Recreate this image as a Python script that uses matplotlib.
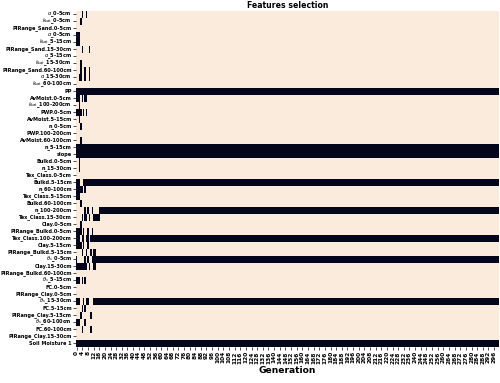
import numpy as np
import matplotlib
matplotlib.use("Agg")
import matplotlib.pyplot as plt
import seaborn as sns

n_generations = 300
last = n_generations - 1

features = [
    r"$\alpha$_0-5cm", r"$k_{sat}$_0-5cm", "PIRange_Sand.0-5cm", r"$\alpha$_0-5cm",
    r"$k_{sat}$_5-15cm", "PIRange_Sand.15-30cm", r"$\alpha$_5-15cm", r"$k_{sat}$_15-30cm",
    "PIRange_Sand.60-100cm", r"$\alpha$_15-30cm", r"$k_{sat}$_60-100cm", "PP",
    "AvMoist.0-5cm", r"$k_{sat}$_100-200cm", "PWP.0-5cm", "AvMoist.5-15cm",
    "n_0-5cm", "PWP.100-200cm", "AvMoist.60-100cm", "n_5-15cm",
    "slope", "Bulkd.0-5cm", "n_15-30cm", "Tex_Class.0-5cm",
    "Bulkd.5-15cm", "n_60-100cm", "Tex_Class.5-15cm", "Bulkd.60-100cm",
    "n_100-200cm", "Tex_Class.15-30cm", "Clay.0-5cm", "PIRange_Bulkd.0-5cm",
    "Tex_Class.100-200cm", "Clay.5-15cm", "PIRange_Bulkd.5-15cm", r"$\theta_s$_0-5cm",
    "Clay.15-30cm", "PIRange_Bulkd.60-100cm", r"$\theta_s$_5-15cm", "FC.0-5cm",
    "PIRange_Clay.0-5cm", r"$\theta_s$_15-30cm", "FC.5-15cm", "PIRange_Clay.5-15cm",
    r"$\theta_s$_60-100cm", "FC.60-100cm", "PIRange_Clay.15-30cm", "Soil Moisture 1",
]

# generations (inclusive ranges) in which each feature was selected
selected = [
    [(4, 4), (7, 7)], [(3, 3)], [], [(0, 2)],
    [(0, 2)], [(4, 4), (9, 9)], [], [(3, 3)],
    [(3, 3), (6, 6), (9, 9)], [(2, 3), (6, 6), (9, 9)], [], [(0, last)],
    [(0, 2), (4, 4), (6, 7)], [(2, 2)], [(0, 3), (5, 5), (7, 7)], [(2, 2)],
    [(3, 3)], [], [(3, 3)], [(0, last)],
    [(0, last)], [(2, 2)], [(2, 2)], [],
    [(0, 2), (5, last)], [(0, 4), (6, 6)], [(0, 2)], [(3, 3)],
    [(6, 6), (8, 8), (11, 11), (16, last)], [(4, 4), (6, 7), (9, 9), (12, 16)], [(3, 3)], [(0, 3), (5, 5), (8, 8), (11, 11)],
    [(0, 2), (4, 5), (7, 8), (10, last)], [(0, 3), (5, 5), (8, 8)], [(4, 4), (7, 7), (10, 10), (12, 13)], [(0, 0), (6, 6), (8, 8), (11, last)],
    [(0, 7), (9, 9), (12, 13)], [], [(0, 2), (4, 4), (6, 6)], [],
    [], [(0, 2), (5, 5), (7, 8), (12, last)], [(4, 4), (6, 6)], [(3, 3), (10, 10)],
    [(0, 2), (6, 6)], [(4, 4), (10, 10)], [], [(0, last)],
]

mask = np.zeros((len(features), n_generations))
for i, runs in enumerate(selected):
    for a, b in runs:
        mask[i, a:b + 1] = 1

fig, ax = plt.subplots(figsize=(5, 3.83), dpi=100)
sns.heatmap(mask, cmap="rocket_r", cbar=False, xticklabels=4,
            yticklabels=features, ax=ax)
fig.subplots_adjust(left=0.152, right=0.998, top=0.972, bottom=0.094)

ax.set_title("Features selection", fontsize=5.6, fontweight="bold", pad=2)
ax.set_xlabel("Generation", fontsize=6.6, fontweight="bold", labelpad=2)
ax.tick_params(axis="y", labelsize=3.6, length=2, width=0.5, pad=1)
ax.tick_params(axis="x", labelsize=4.2, length=2, width=0.5, pad=1)
for lbl in ax.get_xticklabels() + ax.get_yticklabels():
    lbl.set_fontweight("bold")
plt.setp(ax.get_xticklabels(), rotation=90)
plt.setp(ax.get_yticklabels(), rotation=0)

fig.savefig("out.png", dpi=100)
